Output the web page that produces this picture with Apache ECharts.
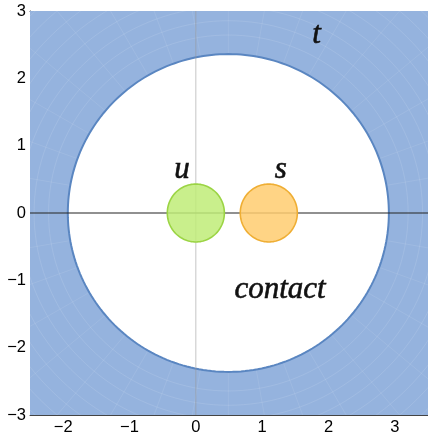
<!DOCTYPE html>
<html>
<head>
<meta charset="utf-8">
<script src="https://cdn.jsdelivr.net/npm/echarts@6/dist/echarts.min.js"></script>
<style>
  html, body { margin: 0; padding: 0; background: #ffffff; }
  #chart { width: 428px; height: 436px; }
</style>
</head>
<body>
<div id="chart"></div>
<script>
// Plot window
const xRange = [-2.5, 3.5];
const yRange = [-3, 3];
const xTicks = [-2, -1, 0, 1, 2, 3];
const yTicks = [-3, -2, -1, 0, 1, 2, 3];

// Boundary of the physical (contact) region
const boundaryCenter = [0.49, 0];
const boundaryRadii = [2.42, 2.36];

// Channel discs
const discNames = ['u', 's'];
const discCenters = [[0, 0], [1.1, 0]];
const discRadii = [0.43, 0.43];

// Region labels
const labelTexts = ['u', 's', 't', 'contact'];
const labelPositions = [[-0.21, 0.64], [1.28, 0.64], [1.82, 2.64], [1.27, -1.14]];

// Minor ticks every 0.2 between the bounds
function minorTicks(range) {
  const out = [];
  for (let k = Math.ceil(range[0] * 5); k <= Math.floor(range[1] * 5); k++) {
    if (k % 5 !== 0) out.push(k / 5);
  }
  return out;
}
const xMinor = minorTicks(xRange);
const yMinor = minorTicks(yRange);

const discStyles = {
  u: { fill: 'rgba(192, 236, 120, 0.85)', stroke: '#9bd444' },
  s: { fill: 'rgba(255, 204, 112, 0.85)', stroke: '#efae34' }
};

function ellipsePoints(api, cx, cy, rx, ry, n) {
  const pts = [];
  for (let i = 0; i < n; i++) {
    const a = 2 * Math.PI * i / n;
    pts.push(api.coord([cx + rx * Math.cos(a), cy + ry * Math.sin(a)]));
  }
  return pts;
}

const fmt = v => String(v).replace('-', '\u2212');
const frameColor = '#444444';
const labelStyle = {
  fontFamily: '"Liberation Sans", Arial, sans-serif',
  fontSize: 16.5,
  color: '#000000'
};

function frameAxis(position, values, withLabels, tickLen, showLine, range) {
  return {
    type: 'value',
    position: position,
    offset: 0,
    min: range[0],
    max: range[1],
    axisLine: { show: showLine, onZero: false, lineStyle: { color: frameColor, width: 1 } },
    axisTick: { show: true, inside: true, length: tickLen, customValues: values,
                lineStyle: { color: frameColor, width: 1 } },
    axisLabel: withLabels
      ? Object.assign({ show: true, customValues: values, formatter: fmt, margin: 4 }, labelStyle)
      : { show: false },
    splitLine: { show: false }
  };
}

const chart = echarts.init(document.getElementById('chart'), null, { renderer: 'canvas' });

chart.setOption({
  animation: false,
  backgroundColor: '#ffffff',
  grid: { left: 30, right: -7, top: 11, bottom: 20.4, containLabel: false },
  xAxis: [
    frameAxis('bottom', xTicks, true, 4, true, xRange),
    frameAxis('top', xTicks, false, 4, true, xRange),
    frameAxis('bottom', xMinor, false, 2, false, xRange),
    frameAxis('top', xMinor, false, 2, false, xRange)
  ],
  yAxis: [
    frameAxis('left', yTicks, true, 4, true, yRange),
    frameAxis('right', yTicks, false, 4, true, yRange),
    frameAxis('left', yMinor, false, 2, false, yRange)
  ],
  series: [
    {
      // shaded t-region outside the contact boundary
      type: 'custom',
      clip: true,
      z: 1,
      data: [[boundaryCenter[0], boundaryCenter[1], boundaryRadii[0], boundaryRadii[1]]],
      renderItem: function (params, api) {
        const cx = api.value(0), cy = api.value(1), rx = api.value(2), ry = api.value(3);
        const tl = api.coord([xRange[0], yRange[1]]);
        const br = api.coord([xRange[1], yRange[0]]);
        const children = [{
          type: 'rect',
          shape: { x: tl[0], y: tl[1], width: br[0] - tl[0], height: br[1] - tl[1] },
          style: { fill: '#95b3de' }
        }];
        // faint mesh inside the shaded region
        for (let s = 1.12; s < 2.1; s += 0.09) {
          children.push({
            type: 'polygon',
            shape: { points: ellipsePoints(api, cx, cy, rx * s, ry * s, 160) },
            style: { fill: null, stroke: 'rgba(255,255,255,0.16)', lineWidth: 0.7 }
          });
        }
        for (let k = 0; k < 36; k++) {
          const a = 2 * Math.PI * k / 36;
          const p0 = api.coord([cx + rx * Math.cos(a), cy + ry * Math.sin(a)]);
          const p1 = api.coord([cx + 3 * rx * Math.cos(a), cy + 3 * ry * Math.sin(a)]);
          children.push({
            type: 'line',
            shape: { x1: p0[0], y1: p0[1], x2: p1[0], y2: p1[1] },
            style: { stroke: 'rgba(255,255,255,0.13)', lineWidth: 0.7 }
          });
        }
        children.push({
          type: 'polygon',
          shape: { points: ellipsePoints(api, cx, cy, rx, ry, 240) },
          style: { fill: '#ffffff', stroke: '#5a86c1', lineWidth: 2 }
        });
        return { type: 'group', children: children };
      }
    },
    {
      // coordinate axes through the origin
      type: 'custom',
      clip: true,
      z: 2,
      data: [[0, 0]],
      renderItem: function (params, api) {
        const ox = api.value(0), oy = api.value(1);
        const v0 = api.coord([ox, yRange[0]]), v1 = api.coord([ox, yRange[1]]);
        const h0 = api.coord([xRange[0], oy]), h1 = api.coord([xRange[1], oy]);
        return {
          type: 'group',
          children: [
            { type: 'line', shape: { x1: v0[0], y1: v0[1], x2: v1[0], y2: v1[1] },
              style: { stroke: 'rgba(150,150,150,0.55)', lineWidth: 1 } },
            { type: 'line', shape: { x1: h0[0], y1: h0[1], x2: h1[0], y2: h1[1] },
              style: { stroke: '#222222', lineWidth: 1.2 } }
          ]
        };
      }
    },
    {
      // u- and s-channel discs
      type: 'custom',
      clip: true,
      z: 3,
      data: discCenters.map((c, i) => [c[0], c[1], discRadii[i], discNames[i]]),
      dimensions: ['x', 'y', 'r', 'name'],
      renderItem: function (params, api) {
        const i = params.dataIndex;
        const r = discRadii[i];
        const st = discStyles[discNames[i]];
        return {
          type: 'polygon',
          shape: { points: ellipsePoints(api, api.value(0), api.value(1), r, r, 120) },
          style: { fill: st.fill, stroke: st.stroke, lineWidth: 1.6 }
        };
      }
    },
    {
      // region labels
      type: 'custom',
      clip: false,
      z: 4,
      data: labelPositions.map((p, i) => [p[0], p[1], labelTexts[i]]),
      dimensions: ['x', 'y', 'label'],
      renderItem: function (params, api) {
        const p = api.coord([api.value(0), api.value(1)]);
        return {
          type: 'text',
          x: p[0],
          y: p[1],
          style: {
            text: labelTexts[params.dataIndex],
            font: 'italic 31px "Liberation Serif", "Times New Roman", serif',
            fill: '#111111',
            stroke: '#111111',
            lineWidth: 0.6,
            align: 'center',
            verticalAlign: 'middle'
          }
        };
      }
    }
  ]
});
</script>
</body>
</html>
